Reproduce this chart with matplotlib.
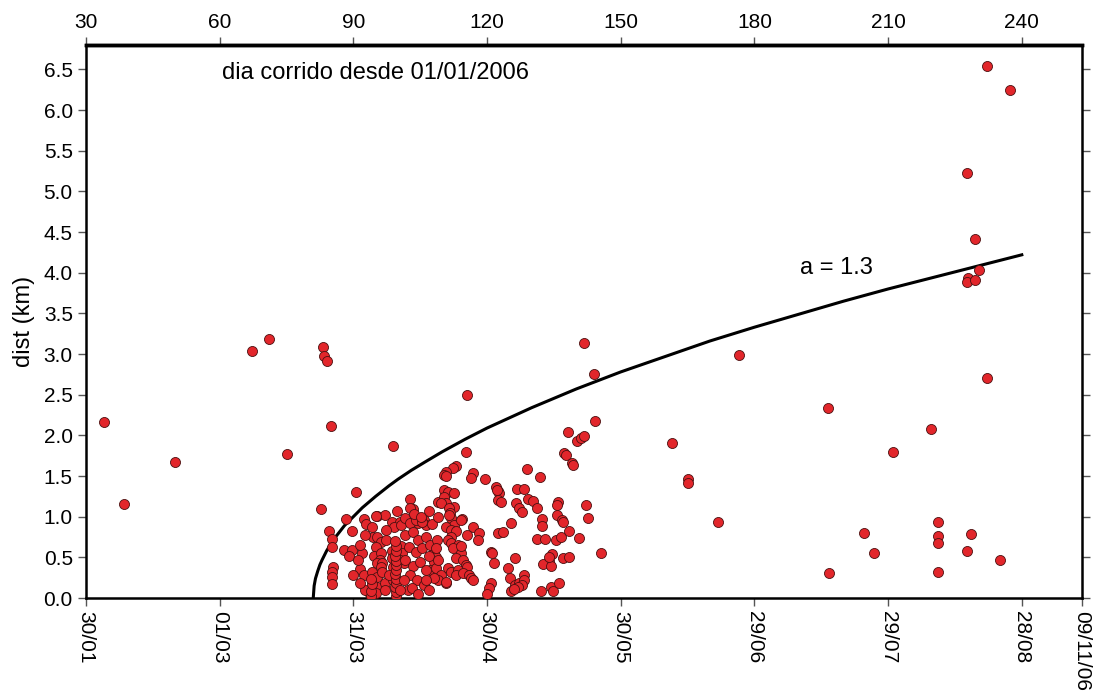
import numpy as np
import matplotlib
matplotlib.use('Agg')
import matplotlib.pyplot as plt

plt.rcParams['font.family'] = ['Liberation Sans', 'DejaVu Sans']

# eixo x: dia corrido desde 01/01/2006
topo_ticks = [30, 60, 90, 120, 150, 180, 210, 240]
base_ticks = [30, 60, 90, 120, 150, 180, 210, 240, 253.5]
base_labels = ['30/01', '01/03', '31/03', '30/04', '30/05', '29/06', '29/07', '28/08', '09/11/06']
y_ticks = [0.0, 0.5, 1.0, 1.5, 2.0, 2.5, 3.0, 3.5, 4.0, 4.5, 5.0, 5.5, 6.0, 6.5]

# curva a = 1.3
curva_dia = [81.0, 81.2, 81.5, 82, 82.5, 83, 84, 85, 86, 88, 90, 92, 95, 98, 100, 103, 106,
             110, 115, 120, 130, 140, 150, 160, 170, 180, 190, 200, 210, 220, 230, 240]
curva_km = [0.0, 0.15, 0.24, 0.33, 0.41, 0.47, 0.58, 0.67, 0.75, 0.89, 1.00, 1.11, 1.25,
            1.38, 1.46, 1.57, 1.67, 1.80, 1.95, 2.09, 2.34, 2.57, 2.78, 2.97, 3.16, 3.33,
            3.49, 3.65, 3.80, 3.94, 4.08, 4.22]

# eventos isolados
fora_dia = [34.0, 38.5, 50.0, 67.3, 71.1, 75.0, 83.3, 83.5, 84.0, 84.9, 82.8, 90.5, 98.8,
            115.6, 141.7, 144.0, 144.2, 138.1, 140.2, 141.1, 141.7, 137.2, 137.7, 139.0,
            139.3, 145.5, 161.5, 165.1, 165.1, 171.8, 176.6, 196.5, 196.8, 204.7, 206.9,
            211.2, 219.7, 221.1, 221.1, 221.1, 221.1, 227.6, 228.7, 227.8, 229.4, 230.3,
            228.0, 227.6, 229.6, 232.1, 232.1, 237.3, 235.2]
fora_km = [2.17, 1.16, 1.67, 3.04, 3.19, 1.77, 3.09, 2.98, 2.92, 2.12, 1.10, 1.30, 1.87,
           2.50, 3.14, 2.76, 2.18, 2.04, 1.93, 1.97, 1.99, 1.78, 1.76, 1.66,
           1.64, 0.55, 1.91, 1.46, 1.42, 0.94, 2.99, 2.34, 0.31, 0.80, 0.55,
           1.80, 2.08, 0.94, 0.76, 0.68, 0.32, 0.58, 0.79, 5.22, 4.42, 4.03,
           3.94, 3.88, 3.91, 2.70, 6.54, 6.25, 0.47]

# enxame de marco (dia, km)
marco = [[88.4, 0.97], [92.3, 0.97], [92.9, 0.91], [95.2, 1.01], [97.2, 1.02], [99.9, 1.07],
         [98.6, 0.94], [100.4, 0.94], [84.6, 0.82], [85.1, 0.73], [85.3, 0.63], [89.8, 0.82],
         [94.1, 0.87], [94.3, 0.75], [95.4, 0.75], [96.1, 0.69], [95.0, 0.63], [99.2, 0.87],
         [88.0, 0.59], [89.6, 0.59], [89.1, 0.52], [92.0, 0.55], [94.7, 0.52], [96.1, 0.55],
         [95.9, 0.47], [95.4, 0.43], [96.5, 0.43], [98.6, 0.58], [98.6, 0.49], [100.6, 0.64],
         [101.0, 0.55], [100.4, 0.47], [101.3, 0.43], [85.5, 0.38], [85.3, 0.32], [85.3, 0.26],
         [85.1, 0.17], [91.6, 0.36], [90.0, 0.28], [92.5, 0.28], [94.1, 0.32], [94.3, 0.22],
         [95.4, 0.26], [94.1, 0.14], [95.4, 0.14], [93.8, 0.05], [95.0, 0.06], [97.2, 0.18],
         [96.1, 0.38], [96.5, 0.32], [98.8, 0.38], [98.8, 0.22], [97.4, 0.84], [97.4, 0.71],
         [92.7, 0.77], [91.6, 0.65], [91.1, 0.47], [92.7, 0.10], [91.6, 0.18], [97.2, 0.10],
         [97.9, 0.28], [95.0, 1.01],
         [99.5, 0.02], [99.6, 0.08], [99.4, 0.13], [99.5, 0.18], [99.6, 0.24], [99.4, 0.29],
         [99.5, 0.35], [99.6, 0.41], [99.5, 0.46], [99.4, 0.52], [99.6, 0.58], [99.5, 0.64],
         [99.4, 0.70], [94.0, 0.02], [93.9, 0.09], [94.1, 0.17], [94.0, 0.24]]

# enxame de abril
abril = [[102.8, 1.22], [103.3, 1.10], [103.5, 1.00], [104.4, 0.92], [106.9, 1.07], [105.8, 0.96],
         [106.2, 0.90], [107.6, 0.91], [100.6, 0.90], [108.9, 1.18], [109.1, 1.00], [101.7, 0.98],
         [102.8, 0.92], [104.0, 0.96], [105.5, 0.94], [102.8, 1.11], [103.5, 1.03], [105.1, 1.00],
         [108.0, 0.57], [108.5, 0.50], [108.0, 0.44], [107.3, 0.34], [108.5, 0.37], [109.6, 0.28],
         [110.7, 0.18], [108.9, 0.22], [108.0, 0.25], [102.2, 0.10], [101.7, 0.78], [103.3, 0.81],
         [104.6, 0.71], [106.2, 0.75], [102.4, 0.63], [104.0, 0.57], [105.5, 0.62], [106.9, 0.52],
         [101.7, 0.47], [103.3, 0.39], [104.9, 0.44], [106.2, 0.34], [102.6, 0.28], [104.2, 0.22],
         [105.8, 0.16], [103.1, 0.12], [104.6, 0.05], [106.9, 0.10], [106.4, 0.22], [107.3, 0.65],
         [108.7, 0.71], [101.3, 0.22], [100.4, 0.10],
         [115.2, 1.79], [113.0, 1.62], [112.3, 1.60], [110.7, 1.55], [110.3, 1.51], [110.9, 1.50],
         [116.8, 1.54], [116.5, 1.48], [119.5, 1.46], [110.3, 1.33], [111.2, 1.30], [110.3, 1.24],
         [112.5, 1.29], [110.9, 1.17], [109.6, 1.17], [112.5, 1.12], [111.4, 1.11], [111.6, 1.05],
         [114.3, 0.97], [111.8, 0.98], [112.5, 0.90], [110.7, 0.87], [111.8, 0.84], [113.0, 0.82],
         [111.8, 0.75], [116.8, 0.87], [118.1, 0.80], [115.6, 0.78], [117.9, 0.71], [111.2, 0.71],
         [111.8, 0.68], [113.4, 0.65], [112.3, 0.62], [114.1, 0.55], [113.0, 0.49], [114.7, 0.47],
         [115.2, 0.41], [115.6, 0.38], [108.5, 0.62], [108.9, 0.47], [111.2, 0.37], [111.8, 0.32],
         [113.4, 0.34], [113.0, 0.28], [114.7, 0.31], [115.9, 0.28], [116.3, 0.25], [116.8, 0.22],
         [110.7, 0.20], [114.1, 0.96], [111.4, 1.02], [114.1, 0.64]]

# enxame de maio
maio = [[121.9, 1.37], [122.4, 1.32], [122.6, 1.29], [122.4, 1.21], [120.8, 0.57], [121.5, 0.43],
        [120.8, 0.18], [120.4, 0.12], [120.1, 0.05], [122.4, 0.80],
        [128.9, 1.59], [131.8, 1.49], [122.2, 1.33], [123.1, 1.18], [126.7, 1.34], [128.3, 1.34],
        [129.2, 1.22], [130.3, 1.19], [131.2, 1.11], [126.4, 1.17], [127.1, 1.11], [127.8, 1.06],
        [135.9, 1.18], [135.7, 1.14], [135.7, 1.02], [136.8, 0.96], [137.0, 0.94], [142.2, 1.14],
        [142.6, 0.98], [132.3, 0.97], [132.3, 0.89], [125.3, 0.92], [123.5, 0.81], [131.2, 0.73],
        [133.0, 0.73], [135.4, 0.71], [136.6, 0.75], [138.4, 0.82], [140.6, 0.74], [121.0, 0.55],
        [126.2, 0.49], [124.6, 0.37], [125.1, 0.25], [126.2, 0.16], [125.3, 0.09], [127.1, 0.18],
        [128.2, 0.28], [128.2, 0.22], [127.8, 0.16], [126.9, 0.14], [126.0, 0.11], [134.5, 0.54],
        [133.9, 0.46], [132.5, 0.42], [134.3, 0.39], [137.0, 0.49], [138.4, 0.50], [133.9, 0.50],
        [132.1, 0.09], [134.3, 0.14], [134.8, 0.09], [136.1, 0.18]]

enx = np.array(marco + abril + maio)
dia = np.concatenate([fora_dia, enx[:, 0]])
km = np.concatenate([fora_km, enx[:, 1]])

fig = plt.figure(figsize=(10.98, 6.92), dpi=100)
ax = fig.add_axes([0.0783, 0.1358, 0.9071, 0.7992])

ax.plot(curva_dia, curva_km, color='black', lw=2.2, zorder=2, solid_joinstyle='round')
ax.scatter(dia, km, s=52, facecolor='#e2262b', edgecolor='#4a1010', linewidths=0.6, zorder=3)

ax.set_xlim(30, 253.5)
ax.set_ylim(0, 6.8)
ax.set_yticks(y_ticks)
ax.set_yticklabels(['%.1f' % v for v in y_ticks], fontsize=15)
ax.set_xticks(base_ticks)
ax.set_xticklabels(base_labels, rotation=270, fontsize=15)
ax.tick_params(axis='both', direction='out', length=6, width=1, color='#555555')
ax.tick_params(axis='y', right=True)
ax.set_ylabel('dist (km)', fontsize=17, labelpad=6)

topo = ax.secondary_xaxis('top')
topo.set_xticks(topo_ticks)
topo.set_xticklabels([str(t) for t in topo_ticks], fontsize=15)
topo.tick_params(direction='out', length=6, width=1, color='#555555')
topo.spines['top'].set_linewidth(2.5)

for s in ax.spines.values():
    s.set_linewidth(1.8)
ax.spines['top'].set_linewidth(2.5)

ax.text(60.5, 6.45, 'dia corrido desde 01/01/2006', fontsize=17, va='center')
ax.text(190.3, 4.06, 'a = 1.3', fontsize=17, va='center')

fig.savefig('out.png', dpi=100)
